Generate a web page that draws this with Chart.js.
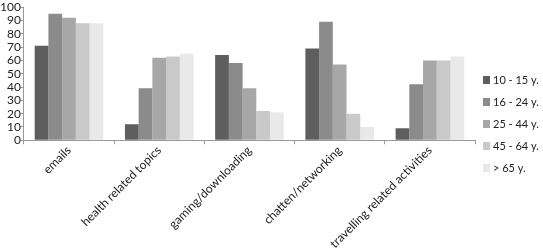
<!DOCTYPE html>
<html lang="en">
<head>
    <meta charset="UTF-8">
    <title>Internet use by age group</title>
    <script src="https://cdn.jsdelivr.net/npm/chart.js@4.4.0/dist/chart.umd.min.js"></script>
    <style>
        html, body { margin: 0; padding: 0; background: #fff; }
        #wrap { width: 543px; height: 250px; }
    </style>
</head>
<body>
    <div id="wrap"><canvas id="chart"></canvas></div>
    <script>
        const categories = ["emails", "health related topics", "gaming/downloading", "chatten/networking", "travelling related activities"];
        const ageGroups = ["10 - 15 y.", "16 - 24 y.", "25 - 44 y.", "45 - 64 y.", "> 65 y."];
        const age10to15 = [71, 12, 64, 69, 9];
        const age16to24 = [95, 39, 58, 89, 42];
        const age25to44 = [92, 62, 39, 57, 60];
        const age45to64 = [88, 63, 22, 20, 60];
        const age65plus = [88, 65, 21, 10, 63];
        const yTicks = [0, 10, 20, 30, 40, 50, 60, 70, 80, 90, 100];

        const colors = ["#5e5e5e", "#8b8b8b", "#a7a7a7", "#c9c9c9", "#e9e9e9"];
        const series = [age10to15, age16to24, age25to44, age45to64, age65plus];

        const fontFamily = "Lato, 'Open Sans', sans-serif";
        const font = { family: fontFamily, size: 12 };

        // simple legend on the right, drawn beside the plot area
        const sideLegend = {
            id: "sideLegend",
            afterDraw(chart) {
                const ctx = chart.ctx;
                const x = chart.chartArea.right + 8;
                const midY = 124;
                const step = 22;
                ctx.save();
                ctx.font = "11px " + fontFamily;
                ctx.textBaseline = "middle";
                chart.data.datasets.forEach((ds, i) => {
                    const y = midY + (i - 2) * step;
                    ctx.fillStyle = ds.backgroundColor;
                    ctx.fillRect(x, y - 4, 7, 8);
                    ctx.fillStyle = "#222";
                    ctx.fillText(ds.label, x + 10, y);
                });
                ctx.restore();
            }
        };

        new Chart(document.getElementById("chart"), {
            type: "bar",
            data: {
                labels: categories,
                datasets: series.map((vals, i) => ({
                    label: ageGroups[i],
                    data: vals,
                    backgroundColor: colors[i],
                    borderWidth: 0,
                    barPercentage: 1.0,
                    categoryPercentage: 0.76
                }))
            },
            options: {
                responsive: true,
                maintainAspectRatio: false,
                animation: false,
                layout: { padding: { top: 0, right: 68, left: 0, bottom: 0 } },
                plugins: {
                    tooltip: { enabled: false },
                    legend: { display: false }
                },
                scales: {
                    x: {
                        grid: { display: true, drawOnChartArea: false, offset: true, tickLength: 4, color: "#999" },
                        border: { color: "#999" },
                        ticks: { color: "#222", font: font, maxRotation: 45, minRotation: 45, padding: -1 }
                    },
                    y: {
                        min: 0,
                        max: 100,
                        afterBuildTicks: axis => { axis.ticks = yTicks.map(v => ({ value: v })); },
                        grid: { display: true, drawOnChartArea: false, tickLength: 3, color: "#999" },
                        border: { color: "#999" },
                        ticks: { color: "#222", font: font, padding: 0, autoSkip: false }
                    }
                }
            },
            plugins: [sideLegend]
        });
    </script>
</body>
</html>
